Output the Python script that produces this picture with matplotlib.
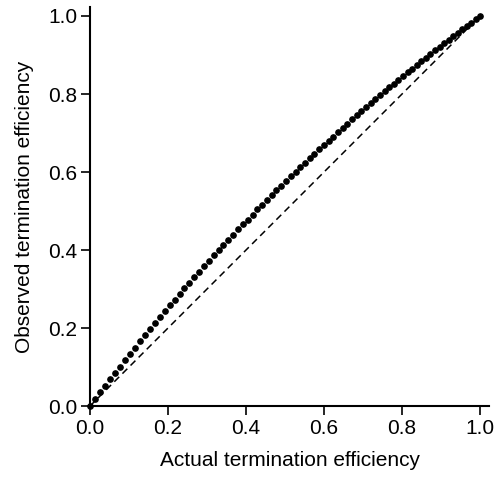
import matplotlib
matplotlib.use("Agg")
import matplotlib.pyplot as plt

plt.rcParams['font.family'] = ['Liberation Sans', 'DejaVu Sans']

# actual vs observed termination efficiency
actual = [0.0, 0.0129, 0.0258, 0.0386, 0.0515, 0.0643, 0.0771, 0.0899, 0.1027, 0.1155,
          0.1282, 0.1409, 0.1537, 0.1664, 0.1790, 0.1917, 0.2043, 0.2170, 0.2296, 0.2421,
          0.2547, 0.2673, 0.2798, 0.2923, 0.3048, 0.3173, 0.3298, 0.3422, 0.3547, 0.3671,
          0.3795, 0.3919, 0.4042, 0.4166, 0.4289, 0.4412, 0.4535, 0.4658, 0.4780, 0.4903,
          0.5025, 0.5147, 0.5269, 0.5391, 0.5512, 0.5634, 0.5755, 0.5876, 0.5997, 0.6118,
          0.6238, 0.6359, 0.6479, 0.6599, 0.6719, 0.6838, 0.6958, 0.7077, 0.7196, 0.7315,
          0.7434, 0.7553, 0.7671, 0.7789, 0.7907, 0.8025, 0.8143, 0.8261, 0.8378, 0.8495,
          0.8612, 0.8729, 0.8846, 0.8963, 0.9079, 0.9195, 0.9311, 0.9427, 0.9543, 0.9658,
          0.9774, 0.9889, 1.0]
observed = [0.0, 0.017, 0.035, 0.051, 0.068, 0.085, 0.101, 0.118, 0.134, 0.150,
            0.166, 0.181, 0.197, 0.212, 0.228, 0.243, 0.258, 0.272, 0.287, 0.302,
            0.316, 0.330, 0.344, 0.358, 0.372, 0.386, 0.399, 0.413, 0.426, 0.439,
            0.453, 0.466, 0.478, 0.491, 0.504, 0.516, 0.529, 0.541, 0.553, 0.565,
            0.577, 0.589, 0.601, 0.612, 0.624, 0.636, 0.647, 0.658, 0.669, 0.680,
            0.691, 0.702, 0.713, 0.724, 0.735, 0.745, 0.756, 0.766, 0.776, 0.786,
            0.797, 0.807, 0.817, 0.826, 0.836, 0.846, 0.856, 0.865, 0.875, 0.884,
            0.893, 0.903, 0.912, 0.921, 0.930, 0.939, 0.948, 0.957, 0.966, 0.974,
            0.983, 0.992, 1.0]
ticks = [0.0, 0.2, 0.4, 0.6, 0.8, 1.0]
tick_labels = ['0.0', '0.2', '0.4', '0.6', '0.8', '1.0']

fig = plt.figure(figsize=(4.99, 4.78), dpi=100)
ax = fig.add_axes([0.1804, 0.1506, 0.7996, 0.8347])

ax.plot([0, 1], [0, 1], color='black', linestyle=(0, (4.5, 3)), linewidth=1.1)
ax.plot(actual, observed, linestyle='none', marker='o', markersize=3.8,
        color='black', clip_on=False)

ax.set_xlim(0, 1.023)
ax.set_ylim(0, 1.023)
ax.set_xticks(ticks)
ax.set_xticklabels(tick_labels)
ax.set_yticks(ticks)
ax.set_yticklabels(tick_labels)

for side in ['top', 'right']:
    ax.spines[side].set_visible(False)
for side in ['left', 'bottom']:
    ax.spines[side].set_linewidth(1.5)
ax.tick_params(direction='out', length=6.5, width=1.2, labelsize=15, pad=2.5)

ax.set_xlabel('Actual termination efficiency', fontsize=15, labelpad=10)
ax.set_ylabel('Observed termination efficiency', fontsize=15, labelpad=10)

fig.savefig('out.png', dpi=100)
